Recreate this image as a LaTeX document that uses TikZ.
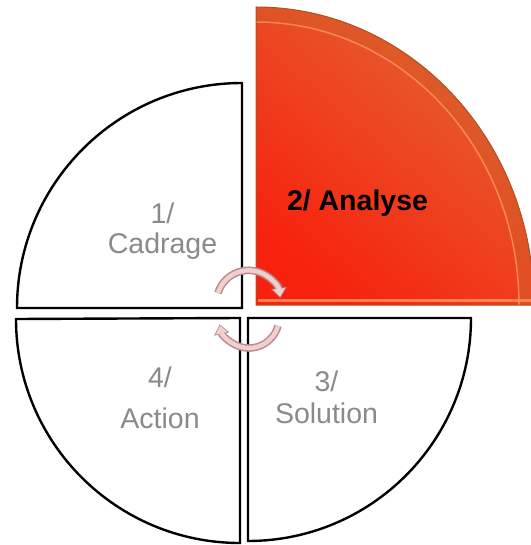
\documentclass[tikz,border=0pt]{standalone}
\usepackage{fontspec}
\setmainfont{Liberation Sans}
\usepackage{tikz}
\usetikzlibrary{positioning, arrows.meta}
\definecolor{labelgray}{RGB}{138,138,138}
\definecolor{hotred}{RGB}{246,34,14}
\definecolor{burntorange}{RGB}{228,100,50}
\definecolor{bevelorange}{RGB}{214,92,40}
\definecolor{bevellight}{RGB}{250,150,100}
\definecolor{rimbrown}{RGB}{176,80,34}
\definecolor{cyclepink}{RGB}{243,206,206}
\definecolor{cycleedge}{RGB}{180,140,140}

\begin{document}
\begin{tikzpicture}[x=1pt, y=-1pt,
  quarter/.style={draw=black, line width=2.4pt, fill=white},
  phase/.style={align=center, text=labelgray, font=\fontsize{28.5}{30}\selectfont, anchor=base},
  active/.style={text=black, font=\bfseries\fontsize{28.5}{30}\selectfont, anchor=base},
  cycout/.style={line width=7.5pt, color=cycleedge, -{Triangle[length=10pt, width=15pt]}},
  cycin/.style={line width=4.5pt, color=cyclepink, shorten >=1.2pt, -{Triangle[length=8pt, width=11.5pt]}}]
  \useasboundingbox (0,0) rectangle (530,545);

  % white quarters
  \draw[quarter] (242,308) -- (17,308) arc[start angle=180, end angle=270, radius=225] -- cycle;
  \draw[quarter] (240,318) -- (240,543) arc[start angle=90, end angle=180, radius=224] -- cycle;
  \draw[quarter] (248,318) -- (471,318) arc[start angle=0, end angle=90, radius=223] -- cycle;

  % red quarter, with bevel
  \shade[top color=burntorange, bottom color=hotred, shading angle=-40]
    (256,305) -- (256,7) arc[start angle=270, end angle=360, x radius=278, y radius=298] -- cycle;
  \begin{scope}
    \clip (256,305) -- (256,7) arc[start angle=270, end angle=360, x radius=278, y radius=298] -- cycle;
    \draw[bevelorange, line width=14pt, opacity=0.55]
      (256,14) arc[start angle=270, end angle=360, x radius=271, y radius=291];
    \draw[bevellight, line width=1.5pt, opacity=0.8]
      (256,22) arc[start angle=270, end angle=360, x radius=263, y radius=283];
    \draw[bevellight, line width=3pt, opacity=0.8] (258,300) -- (534,300);
  \end{scope}
  \draw[rimbrown, line width=1pt]
    (256,305) -- (256,7) arc[start angle=270, end angle=360, x radius=278, y radius=298] -- cycle;

  % labels
  \node[phase] (cadrage) at (162.5,253) {1/\\Cadrage};
  \node[active] (analyse) at (357.5,210) {2/ Analyse};
  \node[phase, font=\fontsize{28.5}{41}\selectfont] (action) at (160,428) {4/\\Action};
  \node[phase, font=\fontsize{28.5}{32}\selectfont] (solution) at (326.5,423) {3/\\Solution};

  % cycle arrows
  \coordinate (topstart) at (218,293);
  \coordinate (botstart) at (278.0,325.8);
  \draw[cycout] (topstart) arc[start angle=197, end angle=352, radius=32];
  \draw[cycin] (topstart) arc[start angle=197, end angle=352, radius=32];
  \draw[cycout] (botstart) arc[start angle=15, end angle=168, radius=30];
  \draw[cycin] (botstart) arc[start angle=15, end angle=168, radius=30];
\end{tikzpicture}
\end{document}
